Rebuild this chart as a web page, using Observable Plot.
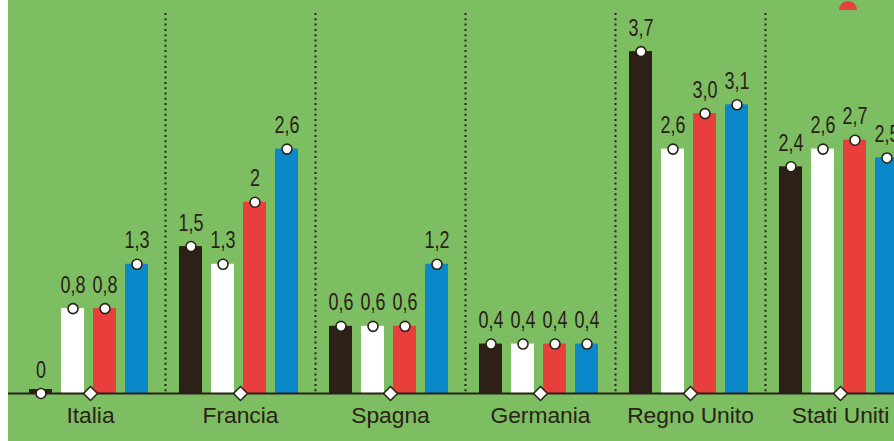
<!DOCTYPE html>
<html>
<head>
<meta charset="utf-8">
<script src="https://cdn.jsdelivr.net/npm/d3@7"></script>
<script src="https://cdn.jsdelivr.net/npm/@observablehq/plot@0.6"></script>
<style>
  html, body { margin: 0; padding: 0; background: #ffffff; }
  #wrap { position: relative; width: 894px; height: 441px; overflow: hidden; background: #ffffff; }
  #chart { position: absolute; left: 8px; top: 0; }
  #chart svg { background: #7dbe62; display: block; }
  #badge { position: absolute; left: 839px; top: 1px; width: 18px; height: 9px; border-radius: 9px 9px 0 0; background: #e8403d; }
</style>
</head>
<body>
<div id="wrap"><div id="chart"></div><div id="badge"></div></div>
<script>
// ---- data ----
const countries = ["Italia", "Francia", "Spagna", "Germania", "Regno Unito", "Stati Uniti"];
const seriesKeys = ["nero", "bianco", "rosso", "blu"];
const seriesColors = ["#2d2016", "#ffffff", "#e83f3c", "#0a88c9"];
const valuesNero   = [0,   1.5, 0.6, 0.4, 3.7, 2.4];
const valuesBianco = [0.8, 1.3, 0.6, 0.4, 2.6, 2.6];
const valuesRosso  = [0.8, 2.0, 0.6, 0.4, 3.0, 2.7];
const valuesBlu    = [1.3, 2.6, 1.3, 0.4, 3.1, 2.5];
const labelsNero   = ["0",   "1,5", "0,6", "0,4", "3,7", "2,4"];
const labelsBianco = ["0,8", "1,3", "0,6", "0,4", "2,6", "2,6"];
const labelsRosso  = ["0,8", "2",   "0,6", "0,4", "3,0", "2,7"];
const labelsBlu    = ["1,3", "2,6", "1,2", "0,4", "3,1", "2,5"];

const seriesValues = [valuesNero, valuesBianco, valuesRosso, valuesBlu];
const seriesLabels = [labelsNero, labelsBianco, labelsRosso, labelsBlu];

const BASE = -0.158;   // value at the drawn baseline
const STUB = -0.113;   // top of the tiny stub drawn for a zero value

const rows = [];
countries.forEach((c, ci) => {
  seriesKeys.forEach((s, si) => {
    const v = seriesValues[si][ci];
    rows.push({country: c, series: s, si, value: v, label: seriesLabels[si][ci],
               top: v > 0 ? v : STUB, dotY: v > 0 ? v : BASE});
  });
});

const dark = "#2a2118";
const groupW = 150, barW = 23, pitch = 32, lead = 14;
const VALUE_FONT = 23;
const NAME_FONT = 22.8;

const marks = [];
// dotted separators between groups
marks.push(Plot.ruleX(countries.slice(1), {x: d => d, dx: -groupW / 2, stroke: dark, strokeWidth: 2, strokeDasharray: "2,3.3"}));
seriesKeys.forEach((s, si) => {
  const data = rows.filter(r => r.si === si);
  const left = lead + pitch * si;
  marks.push(Plot.rectY(data, {x: "country", y1: BASE, y2: "top", fill: seriesColors[si],
    insetLeft: left, insetRight: groupW - left - barW}));
});
// baseline
marks.push(Plot.ruleY([BASE], {stroke: dark, strokeWidth: 2}));
// diamonds at group centres
marks.push(Plot.dot(countries, {x: d => d, y: BASE, symbol: "diamond2", r: 6.3, fill: "#ffffff", stroke: dark, strokeWidth: 1.5}));
seriesKeys.forEach((s, si) => {
  const data = rows.filter(r => r.si === si);
  const off = lead + pitch * si + barW / 2 - groupW / 2;
  marks.push(Plot.dot(data, {x: "country", y: "dotY", dx: off, r: 5, fill: "#ffffff", stroke: dark, strokeWidth: 1.6}));
  marks.push(Plot.text(data, {x: "country", y: "dotY", dx: off, dy: -16, text: "label", lineAnchor: "bottom",
    fill: dark, fontSize: VALUE_FONT, fontFamily: "'Liberation Sans', Arial, sans-serif"}));
});
// country names
marks.push(Plot.text(countries, {x: d => d, frameAnchor: "bottom", dy: 22, lineAnchor: "middle", text: d => d,
  fill: dark, fontSize: NAME_FONT, fontFamily: "'Liberation Sans', Arial, sans-serif"}));

const chart = Plot.plot({
  width: 886,
  height: 441,
  marginTop: 13,
  marginBottom: 48,
  marginLeft: 0,
  marginRight: 0,
  x: {domain: countries, range: [7, 907], padding: 0, axis: null},
  y: {domain: [BASE, 4.13], axis: null},
  style: {overflow: "visible"},
  marks
});
// condense the value labels horizontally (the original uses a condensed face)
chart.querySelectorAll(`g[font-size="${VALUE_FONT}"] text`).forEach(t => {
  const x = +(t.getAttribute("x") || 0), y = +(t.getAttribute("y") || 0);
  const prev = t.getAttribute("transform") || "";
  t.setAttribute("x", 0); t.setAttribute("y", 0);
  t.setAttribute("transform", `${prev} translate(${x},${y}) scale(0.78,1)`);
});
document.getElementById("chart").appendChild(chart);
</script>
</body>
</html>
